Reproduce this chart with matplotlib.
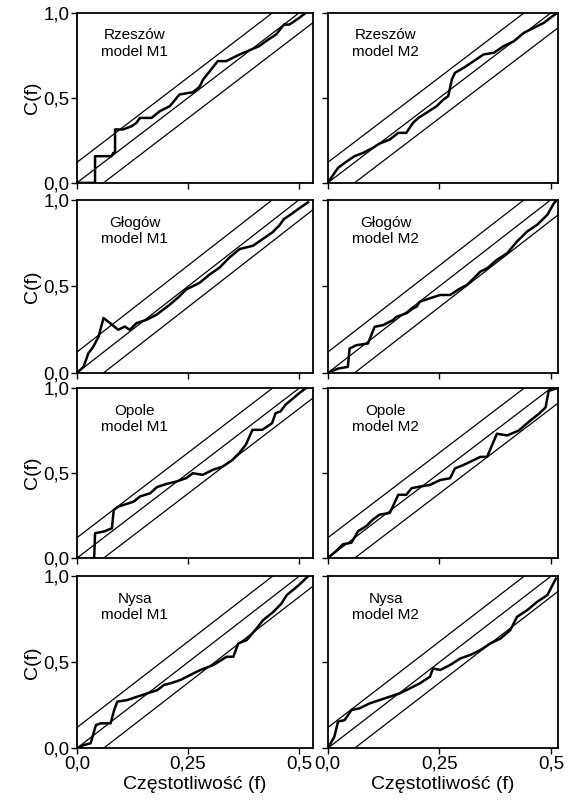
import matplotlib
matplotlib.use("Agg")
import matplotlib.pyplot as plt
import numpy as np

plt.rcParams['font.family'] = ['Liberation Sans', 'DejaVu Sans']

# cumulative periodogram C(f), one pair of arrays per panel
rz1_f = [0, 0.041, 0.041, 0.078, 0.082, 0.086, 0.086, 0.104, 0.123, 0.134, 0.142, 0.168, 0.187, 0.209, 0.231,
         0.261, 0.276, 0.284, 0.299, 0.317, 0.336, 0.366, 0.384, 0.410, 0.425, 0.448, 0.466, 0.478, 0.500, 0.515]
rz1_c = [0, 0, 0.157, 0.157, 0.176, 0.176, 0.314, 0.314, 0.333, 0.353, 0.382, 0.382, 0.422, 0.451, 0.520,
         0.533, 0.565, 0.608, 0.657, 0.716, 0.716, 0.755, 0.775, 0.804, 0.833, 0.873, 0.931, 0.931, 0.970, 1.0]

rz2_f = [0, 0.023, 0.038, 0.060, 0.079, 0.101, 0.116, 0.139, 0.158, 0.176, 0.191, 0.203, 0.221, 0.244, 0.259,
         0.270, 0.278, 0.285, 0.304, 0.327, 0.349, 0.372, 0.394, 0.417, 0.439, 0.462, 0.484, 0.499, 0.514]
rz2_c = [0, 0.088, 0.118, 0.157, 0.176, 0.206, 0.231, 0.255, 0.294, 0.294, 0.353, 0.382, 0.412, 0.451, 0.490,
         0.510, 0.608, 0.647, 0.676, 0.716, 0.755, 0.765, 0.804, 0.833, 0.882, 0.912, 0.941, 0.971, 1.0]

gl1_f = [0, 0.015, 0.026, 0.037, 0.049, 0.060, 0.075, 0.093, 0.108, 0.119, 0.134, 0.157, 0.179, 0.194, 0.209,
         0.231, 0.246, 0.276, 0.299, 0.321, 0.343, 0.366, 0.396, 0.418, 0.440, 0.455, 0.466, 0.478, 0.500, 0.520]
gl1_c = [0, 0.035, 0.113, 0.151, 0.210, 0.317, 0.287, 0.249, 0.268, 0.249, 0.287, 0.307, 0.336, 0.365, 0.394,
         0.443, 0.482, 0.520, 0.569, 0.608, 0.666, 0.715, 0.734, 0.773, 0.812, 0.850, 0.889, 0.909, 0.950, 0.985]

gl2_f = [0, 0.023, 0.045, 0.049, 0.064, 0.090, 0.105, 0.124, 0.146, 0.154, 0.176, 0.191, 0.199, 0.206, 0.229,
         0.252, 0.274, 0.297, 0.312, 0.327, 0.342, 0.357, 0.379, 0.402, 0.424, 0.447, 0.469, 0.492, 0.507, 0.514]
gl2_c = [0, 0.025, 0.035, 0.141, 0.160, 0.170, 0.266, 0.276, 0.305, 0.324, 0.344, 0.373, 0.382, 0.411, 0.431,
         0.450, 0.450, 0.488, 0.508, 0.546, 0.585, 0.604, 0.653, 0.691, 0.759, 0.817, 0.855, 0.913, 0.981, 1.0]

op1_f = [0, 0.039, 0.041, 0.061, 0.079, 0.083, 0.094, 0.113, 0.128, 0.142, 0.165, 0.180, 0.202, 0.224, 0.246,
         0.261, 0.283, 0.306, 0.328, 0.350, 0.365, 0.380, 0.395, 0.417, 0.439, 0.447, 0.458, 0.469, 0.500, 0.515]
op1_c = [0, 0, 0.147, 0.157, 0.176, 0.284, 0.304, 0.320, 0.333, 0.363, 0.382, 0.418, 0.437, 0.451, 0.471,
         0.500, 0.490, 0.520, 0.539, 0.578, 0.618, 0.667, 0.755, 0.755, 0.794, 0.853, 0.863, 0.902, 0.970, 1.0]

op2_f = [0, 0.019, 0.034, 0.053, 0.068, 0.086, 0.101, 0.116, 0.139, 0.158, 0.176, 0.188, 0.206, 0.229, 0.252,
         0.274, 0.285, 0.304, 0.327, 0.342, 0.357, 0.379, 0.402, 0.428, 0.454, 0.473, 0.488, 0.495, 0.514]
op2_c = [0, 0.043, 0.082, 0.091, 0.159, 0.188, 0.227, 0.256, 0.266, 0.373, 0.373, 0.412, 0.421, 0.431, 0.460,
         0.470, 0.528, 0.548, 0.577, 0.596, 0.596, 0.732, 0.722, 0.751, 0.810, 0.849, 0.887, 0.984, 1.0]

ny1_f = [0, 0.016, 0.031, 0.043, 0.054, 0.076, 0.084, 0.091, 0.113, 0.136, 0.158, 0.181, 0.196, 0.210, 0.233,
         0.255, 0.278, 0.307, 0.337, 0.352, 0.363, 0.382, 0.404, 0.419, 0.442, 0.460, 0.472, 0.500, 0.520]
ny1_c = [0, 0.019, 0.029, 0.135, 0.145, 0.145, 0.222, 0.271, 0.280, 0.300, 0.319, 0.338, 0.368, 0.377, 0.397,
         0.426, 0.455, 0.484, 0.532, 0.532, 0.609, 0.629, 0.696, 0.745, 0.793, 0.841, 0.890, 0.950, 1.0]

ny2_f = [0, 0.015, 0.023, 0.038, 0.053, 0.071, 0.094, 0.116, 0.139, 0.161, 0.184, 0.206, 0.229, 0.236, 0.252,
         0.274, 0.297, 0.319, 0.342, 0.364, 0.387, 0.409, 0.424, 0.447, 0.469, 0.492, 0.511]
ny2_c = [0, 0.068, 0.155, 0.164, 0.222, 0.232, 0.261, 0.280, 0.300, 0.319, 0.348, 0.377, 0.416, 0.464, 0.455,
         0.484, 0.522, 0.542, 0.571, 0.609, 0.638, 0.687, 0.764, 0.803, 0.851, 0.890, 0.986]

titles = ["Rzeszów\nmodel M1", "Rzeszów\nmodel M2",
          "Głogów\nmodel M1", "Głogów\nmodel M2",
          "Opole\nmodel M1", "Opole\nmodel M2",
          "Nysa\nmodel M1", "Nysa\nmodel M2"]
series = [(rz1_f, rz1_c), (rz2_f, rz2_c), (gl1_f, gl1_c), (gl2_f, gl2_c),
          (op1_f, op1_c), (op2_f, op2_c), (ny1_f, ny1_c), (ny2_f, ny2_c)]

band = 0.12   # confidence band half width

fig = plt.figure(figsize=(5.69, 8.02), dpi=100)

row_bottoms = [0.772, 0.535, 0.304, 0.067]
row_heights = [0.212, 0.216, 0.212, 0.2145]
col_lefts = [0.135, 0.576]
col_widths = [0.415, 0.404]
col_xmax = [0.531, 0.515]

fx = np.array([0.0, 0.6])
for i in range(8):
    r, c = i // 2, i % 2
    ax = fig.add_axes([col_lefts[c], row_bottoms[r], col_widths[c], row_heights[r]])
    ax.plot(fx, 2 * fx, color='black', lw=0.9)
    ax.plot(fx, 2 * fx + band, color='black', lw=0.9)
    ax.plot(fx, 2 * fx - band, color='black', lw=0.9)
    f, cf = series[i]
    ax.plot(f, cf, color='black', lw=1.8)
    ax.set_xlim(0, col_xmax[c])
    ax.set_ylim(0, 1.0)
    ax.text(0.13, 0.82, titles[i], ha='center', va='center', fontsize=11, linespacing=1.2)
    for s in ax.spines.values():
        s.set_linewidth(1.3)
    ax.tick_params(direction='out', length=4, width=1, labelsize=13.5, pad=1)
    ax.set_xticks([0, 0.25, 0.5])
    ax.set_yticks([0, 0.5, 1.0])
    if r == 3:
        ax.set_xticklabels(["0,0", "0,25", "0,5"])
        ax.set_xlabel("Częstotliwość (f)", fontsize=14, labelpad=3)
    else:
        ax.set_xticklabels([])
    if c == 0:
        ax.set_yticklabels(["0,0", "0,5", "1,0"])
        ax.set_ylabel("C(f)", fontsize=14, labelpad=2)
    else:
        ax.set_yticklabels([])

plt.savefig("out.png", dpi=100)
plt.close('all')
